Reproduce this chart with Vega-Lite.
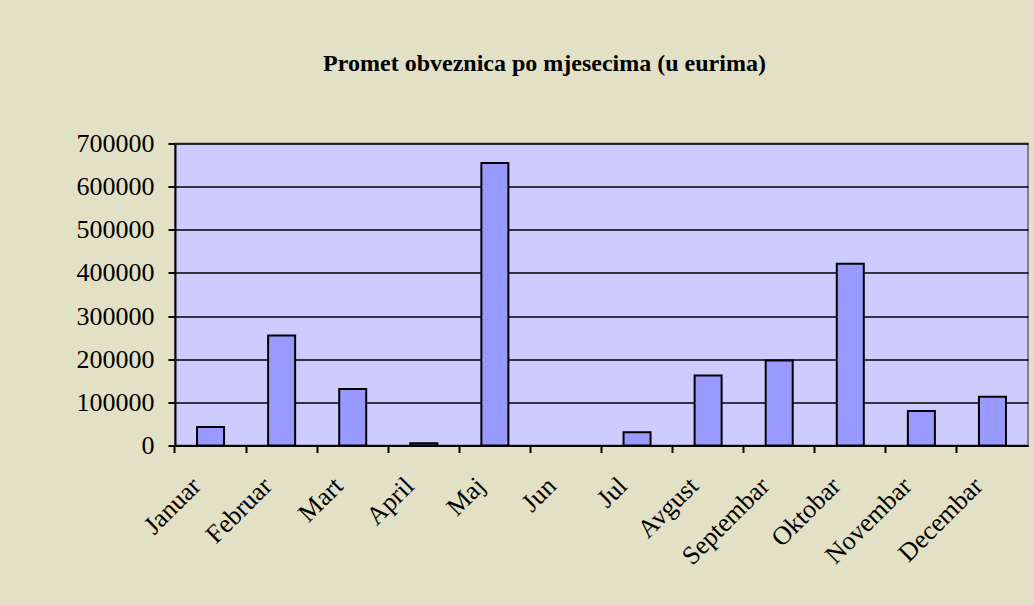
{
  "$schema": "https://vega.github.io/schema/vega-lite/v6.json",
  "width": 853,
  "height": 302,
  "autosize": {"type": "none"},
  "padding": {"left": 175, "top": 143.5, "right": 6, "bottom": 159.5},
  "background": "#E2E1C6",
  "title": {
    "text": "Promet obveznica po mjesecima (u eurima)",
    "font": "Liberation Serif",
    "fontSize": 24,
    "fontWeight": "bold",
    "color": "#000000",
    "anchor": "middle",
    "frame": "group",
    "dx": -57,
    "baseline": "alphabetic",
    "offset": 36
  },
  "data": {
    "values": [
      {"mjesec": "Januar", "promet": 43000},
      {"mjesec": "Februar", "promet": 255000},
      {"mjesec": "Mart", "promet": 131000},
      {"mjesec": "April", "promet": 5000},
      {"mjesec": "Maj", "promet": 655000},
      {"mjesec": "Jun", "promet": null},
      {"mjesec": "Jul", "promet": 31000},
      {"mjesec": "Avgust", "promet": 162000},
      {"mjesec": "Septembar", "promet": 197000},
      {"mjesec": "Oktobar", "promet": 421000},
      {"mjesec": "Novembar", "promet": 80000},
      {"mjesec": "Decembar", "promet": 113000}
    ]
  },
  "mark": {"type": "bar", "fill": "#9999FF", "stroke": "#000000", "strokeWidth": 2},
  "encoding": {
    "x": {
      "field": "mjesec",
      "type": "nominal",
      "sort": null,
      "title": null,
      "scale": {
        "domain": ["Januar", "Februar", "Mart", "April", "Maj", "Jun", "Jul", "Avgust", "Septembar", "Oktobar", "Novembar", "Decembar"],
        "paddingInner": 0.62,
        "paddingOuter": 0.31
      },
      "axis": {
        "labelAngle": -45,
        "labelAlign": "right",
        "labelBaseline": "middle",
        "labelFont": "Liberation Serif",
        "labelFontSize": 26,
        "labelColor": "#000000",
        "labelPadding": 29,
        "labelOffset": -14,
        "bandPosition": -0.816,
        "tickColor": "#000000",
        "tickWidth": 2,
        "tickSize": 7,
        "domainColor": "#000000",
        "domainWidth": 2,
        "grid": false
      }
    },
    "y": {
      "field": "promet",
      "type": "quantitative",
      "title": null,
      "scale": {"domain": [0, 700000], "nice": false},
      "axis": {
        "values": [0, 100000, 200000, 300000, 400000, 500000, 600000, 700000],
        "format": "d",
        "labelFont": "Liberation Serif",
        "labelFontSize": 26,
        "labelColor": "#000000",
        "labelPadding": 14,
        "tickColor": "#000000",
        "tickWidth": 2,
        "tickSize": 7,
        "domainColor": "#000000",
        "domainWidth": 2,
        "grid": true,
        "gridColor": "#000000",
        "gridWidth": 1.5,
        "gridOpacity": 1
      }
    }
  },
  "config": {
    "view": {"fill": "#CCCCFF", "stroke": "#808080", "strokeWidth": 2}
  }
}
